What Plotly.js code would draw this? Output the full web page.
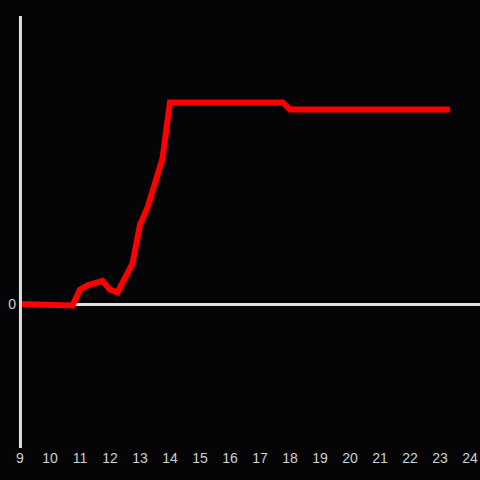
<!DOCTYPE html>
<html>
<head>
<meta charset="utf-8">
<script src="https://cdn.plot.ly/plotly-3.0.1.min.js"></script>
<style>
html,body{margin:0;padding:0;background:#050407;}
#chart{width:480px;height:480px;}
</style>
</head>
<body>
<div id="chart"></div>
<script>
const hours = [9, 9.9, 10.75, 11, 11.25, 11.75, 12, 12.25, 12.75, 13, 13.25, 13.75, 14, 17.75, 18, 23.33];
const values = [0, 0, -0.01, 0.10, 0.13, 0.16, 0.10, 0.08, 0.28, 0.55, 0.67, 1.01, 1.40, 1.40, 1.35, 1.35];
const xTicks = [9,10,11,12,13,14,15,16,17,18,19,20,21,22,23,24];

const trace = {
  x: hours, y: values, type: 'scatter', mode: 'lines',
  line: {color: '#ff0000', width: 6}, hoverinfo: 'skip'
};
const layout = {
  width: 480, height: 480,
  paper_bgcolor: '#050407', plot_bgcolor: '#050407',
  margin: {l: 20, r: 0, t: 16, b: 32},
  showlegend: false,
  font: {family: 'Liberation Sans, Arial, sans-serif', size: 14, color: '#d0d0d0'},
  xaxis: {
    range: [9, 24.333], tickvals: xTicks, ticktext: xTicks.map(String),
    showgrid: false, zeroline: false, showline: false, ticks: '',
    tickfont: {size: 14, color: '#d0d0d0'}
  },
  yaxis: {
    range: [-1, 2], tickvals: [0], ticktext: ['0'],
    showgrid: false, zeroline: true, zerolinecolor: '#e0e0e0', zerolinewidth: 3,
    showline: false, ticks: '', ticklabelstandoff: 3,
    tickfont: {size: 14, color: '#d0d0d0'}
  },
  shapes: [{
    type: 'line', xref: 'paper', yref: 'paper', x0: 0.001, x1: 0.001, y0: 0, y1: 1,
    line: {color: '#e0e0e0', width: 3}, layer: 'above'
  }]
};
Plotly.newPlot('chart', [trace], layout, {displayModeBar: false, staticPlot: true});
</script>
</body>
</html>
